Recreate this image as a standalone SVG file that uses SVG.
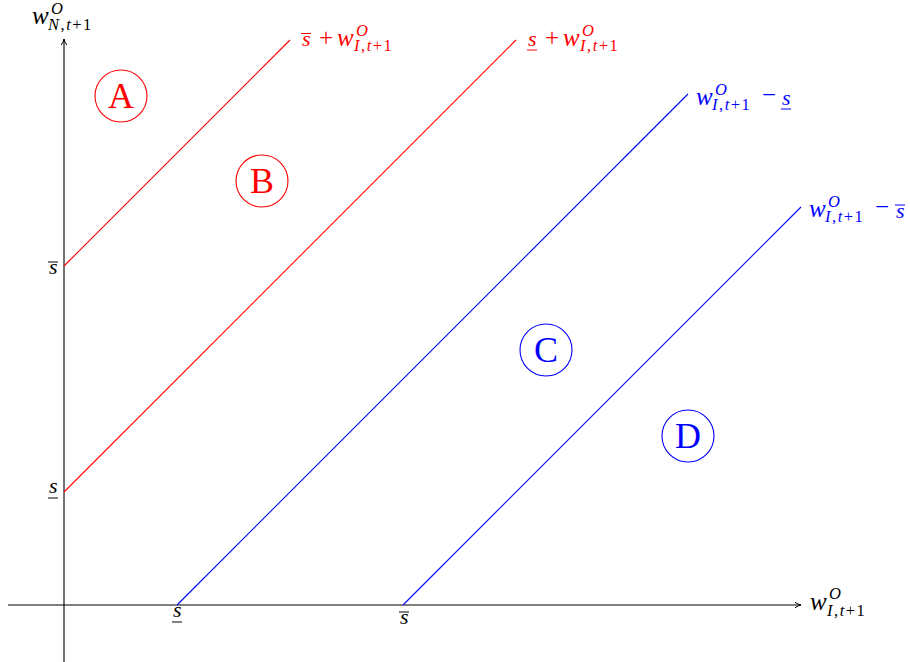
<svg xmlns="http://www.w3.org/2000/svg" width="910" height="662" viewBox="0 0 910 662">
<style>
text{font-family:"Liberation Serif","DejaVu Serif",serif;}
.m{font-size:25px;font-style:italic;}
.s{font-size:22px;font-style:italic;}
.r{font-size:25px;font-style:normal;}
.sc{font-size:16.5px;font-style:italic;letter-spacing:1.5px;}
.u{font-style:normal;}
.red{fill:#f00;}
.blue{fill:#00f;}
.big{font-size:36px;text-anchor:middle;}
.bk{stroke:#000;stroke-width:1;}
.rb{stroke:#f00;stroke-width:1;}
.bb{stroke:#00f;stroke-width:1;}
</style>
<defs>
<marker id="ar" markerWidth="8" markerHeight="8" refX="7" refY="4" orient="auto" markerUnits="userSpaceOnUse">
<path d="M1,1.2 Q4,3.5 7,4 Q4,4.5 1,6.8" fill="none" stroke="#000" stroke-width="1"/>
</marker>
</defs>
<g id="axes" stroke="#000" stroke-width="1.1" fill="none">
<line x1="8" y1="605" x2="801" y2="605" marker-end="url(#ar)"/>
<line x1="64" y1="662" x2="64" y2="39" marker-end="url(#ar)"/>
</g>
<g id="connectors" stroke-width="1.1" fill="none">
<line x1="64" y1="266" x2="290" y2="40" stroke="#f00"/>
<line x1="64" y1="492" x2="516" y2="40" stroke="#f00"/>
<line x1="177" y1="605" x2="688" y2="94" stroke="#00f"/>
<line x1="403" y1="605" x2="801" y2="207" stroke="#00f"/>
</g>
<g id="nodeA"><circle cx="121" cy="96" r="26" fill="none" stroke="#f00" stroke-width="1.1"/><text class="big red" x="121" y="108">A</text></g>
<g id="nodeB"><circle cx="262" cy="181" r="26" fill="none" stroke="#f00" stroke-width="1.1"/><text class="big red" x="262" y="193">B</text></g>
<g id="nodeC"><circle cx="546" cy="350" r="26" fill="none" stroke="#00f" stroke-width="1.1"/><text class="big blue" x="546" y="362">C</text></g>
<g id="nodeD"><circle cx="688" cy="436" r="26" fill="none" stroke="#00f" stroke-width="1.1"/><text class="big blue" x="688" y="448">D</text></g>
<g id="labels">
<!-- y axis label -->
<text class="m" x="32" y="24">w<tspan class="sc" x="51" y="14">O</tspan><tspan class="sc" x="48" y="30">N<tspan class="u">,</tspan>t<tspan class="u">+1</tspan></tspan></text>
<!-- x axis label -->
<text class="m" x="810" y="610">w<tspan class="sc" x="829" y="599">O</tspan><tspan class="sc" x="827" y="616">I<tspan class="u">,</tspan>t<tspan class="u">+1</tspan></tspan></text>
<!-- tick labels -->
<text class="s" x="49" y="274">s</text><line class="bk" x1="48" y1="262" x2="58" y2="262"/>
<text class="s" x="49" y="493">s</text><line class="bk" x1="48" y1="498" x2="58" y2="498"/>
<text class="s" x="173" y="617">s</text><line class="bk" x1="172" y1="622" x2="182" y2="622"/>
<text class="s" x="400" y="624">s</text><line class="bk" x1="399" y1="612" x2="409" y2="612"/>
<!-- red labels -->
<text class="s red" x="302" y="46">s<tspan class="r" x="319" y="46">+</tspan><tspan class="m" x="337" y="46">w</tspan><tspan class="sc" x="356" y="36">O</tspan><tspan class="sc" x="354" y="51">I<tspan class="u">,</tspan>t<tspan class="u">+1</tspan></tspan></text>
<line class="rb" x1="301" y1="33.5" x2="311" y2="33.5"/>
<text class="s red" x="528" y="46">s<tspan class="r" x="545" y="46">+</tspan><tspan class="m" x="563" y="46">w</tspan><tspan class="sc" x="582" y="36">O</tspan><tspan class="sc" x="580" y="51">I<tspan class="u">,</tspan>t<tspan class="u">+1</tspan></tspan></text>
<line class="rb" x1="527" y1="50" x2="537" y2="50"/>
<!-- blue labels -->
<text class="m blue" x="696" y="105">w<tspan class="sc" x="715" y="95">O</tspan><tspan class="sc" x="712" y="110">I<tspan class="u">,</tspan>t<tspan class="u">+1</tspan></tspan><tspan class="r" x="762" y="103">−</tspan><tspan class="s" x="782" y="105">s</tspan></text>
<line class="bb" x1="781" y1="109" x2="791" y2="109"/>
<text class="m blue" x="809" y="217">w<tspan class="sc" x="828" y="207">O</tspan><tspan class="sc" x="825" y="222">I<tspan class="u">,</tspan>t<tspan class="u">+1</tspan></tspan><tspan class="r" x="875" y="215">−</tspan><tspan class="s" x="896" y="218">s</tspan></text>
<line class="bb" x1="895" y1="205" x2="905" y2="205"/>
</g>
</svg>
